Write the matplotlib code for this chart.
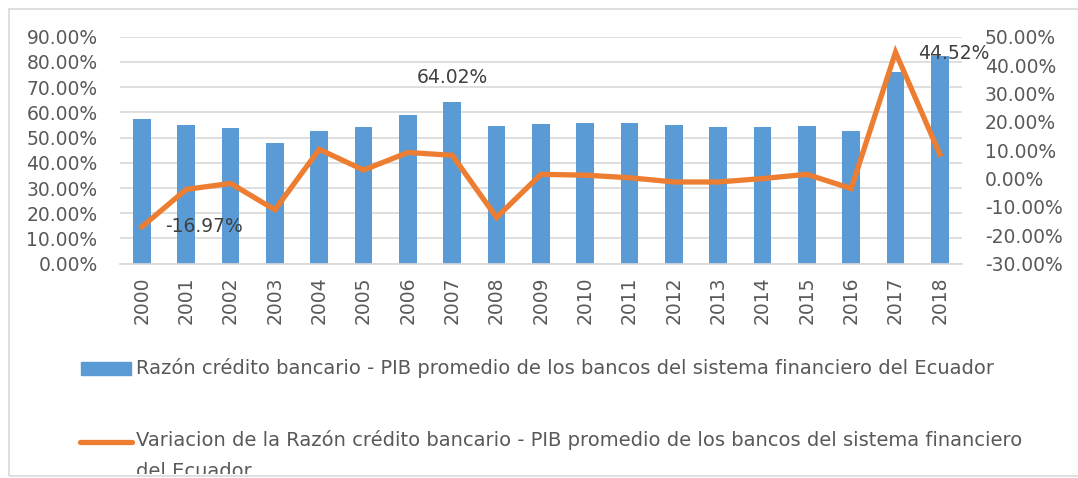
import matplotlib
matplotlib.use("Agg")
import matplotlib.pyplot as plt
from matplotlib.patches import Rectangle
from matplotlib.lines import Line2D
from matplotlib.transforms import Bbox
from matplotlib.ticker import FuncFormatter, MultipleLocator
import numpy as np

years = [str(y) for y in range(2000, 2019)]
ratio = [57.5, 55.0, 54.0, 47.8, 52.7, 54.1, 59.0, 64.02, 54.6, 55.3,
         55.8, 55.8, 55.0, 54.2, 54.2, 54.6, 52.8, 76.2, 82.5]
variation = [-16.97, -3.8, -1.7, -11.0, 10.3, 3.0, 9.2, 8.2, -13.7, 1.5,
             1.2, 0.3, -1.2, -1.2, 0.0, 1.5, -3.5, 44.52, 8.6]
bar_label = "Razón crédito bancario - PIB promedio de los bancos del sistema financiero del Ecuador"
line_label = ("Variacion de la Razón crédito bancario - PIB promedio de los bancos del sistema financiero\n"
              "del Ecuador")

BLUE = "#5B9BD5"
ORANGE = "#ED7D31"
GRAY = "#595959"
GRID = "#D9D9D9"
FS = 13.5
LFS = 14

plt.rcParams['font.family'] = ['DejaVu Sans']

W, H = 1078, 478
fig = plt.figure(figsize=(W / 100, H / 100), dpi=100)
fig.patch.set_facecolor("white")

def fx(px):
    return px / W

def fy(py):
    return 1 - py / H

ax = fig.add_axes([fx(119.8), fy(263.7), fx(962) - fx(119.8), fy(36.7) - fy(263.7)])
x = np.arange(len(years))
ax.bar(x, ratio, width=0.40, color=BLUE, zorder=2)
ax.set_xlim(-0.5, len(years) - 0.5)
ax.set_ylim(0, 90)
ax.yaxis.set_major_locator(MultipleLocator(10))
ax.yaxis.set_major_formatter(FuncFormatter(lambda v, p: f"{v:.2f}%"))
ax.grid(axis="y", color=GRID, linewidth=1.2, zorder=0)
ax.set_axisbelow(True)
for s in ["top", "right", "left"]:
    ax.spines[s].set_visible(False)
ax.spines["bottom"].set_color(GRID)
ax.spines["bottom"].set_linewidth(1.2)
ax.set_xticks(x)
ax.set_xticklabels(years, rotation=90, fontsize=FS, color=GRAY)
ax.tick_params(axis="both", length=0, labelsize=FS, labelcolor=GRAY)
ax.tick_params(axis="x", pad=9)
ax.tick_params(axis="y", pad=16)

ax2 = ax.twinx()
ax2.plot(x, variation, color=ORANGE, linewidth=3.8, solid_joinstyle="miter", zorder=3)
ax2.set_ylim(-30, 50)
ax2.yaxis.set_major_locator(MultipleLocator(10))
ax2.yaxis.set_major_formatter(FuncFormatter(lambda v, p: f"{v:.2f}%"))
for s in ["top", "right", "left", "bottom"]:
    ax2.spines[s].set_visible(False)
ax2.tick_params(axis="y", length=0, labelsize=FS, labelcolor=GRAY, pad=16.5)

# data labels
ax.annotate(f"{ratio[7]:.2f}%", xy=(7, ratio[7]), xytext=(0, 25),
            textcoords="offset pixels", ha="center", va="center",
            fontsize=FS, color="#404040")
ax2.annotate(f"{variation[0]:.2f}%", xy=(0, variation[0]), xytext=(62, 0),
             textcoords="offset pixels", ha="center", va="center",
             fontsize=FS, color="#404040")
ax2.annotate(f"{variation[17]:.2f}%", xy=(17, variation[17]), xytext=(58, -1),
             textcoords="offset pixels", ha="center", va="center",
             fontsize=FS, color="#404040", zorder=5)

# legend
fig.add_artist(Rectangle((fx(81), fy(375)), fx(130.6) - fx(81), fy(362) - fy(375),
                         transform=fig.transFigure, color=BLUE))
fig.text(fx(136.5), fy(368), bar_label, fontsize=LFS, color=GRAY, ha="left", va="center")
fig.add_artist(Line2D([fx(80), fx(132)], [fy(441.7), fy(441.7)], transform=fig.transFigure,
                      color=ORANGE, linewidth=3.8, solid_capstyle="round"))
t = fig.text(fx(136.5), fy(430), line_label, fontsize=LFS, color=GRAY, ha="left", va="top",
             linespacing=1.8)
t.set_clip_box(Bbox([[0, H - 474], [W, H]]))
t.set_clip_on(True)

# chart border
fig.add_artist(Rectangle((fx(8.5), fy(476)), 2.0, fy(8.5) - fy(476), transform=fig.transFigure,
                         fill=False, edgecolor=GRID, linewidth=1.2))

fig.savefig("out.png", dpi=100)
